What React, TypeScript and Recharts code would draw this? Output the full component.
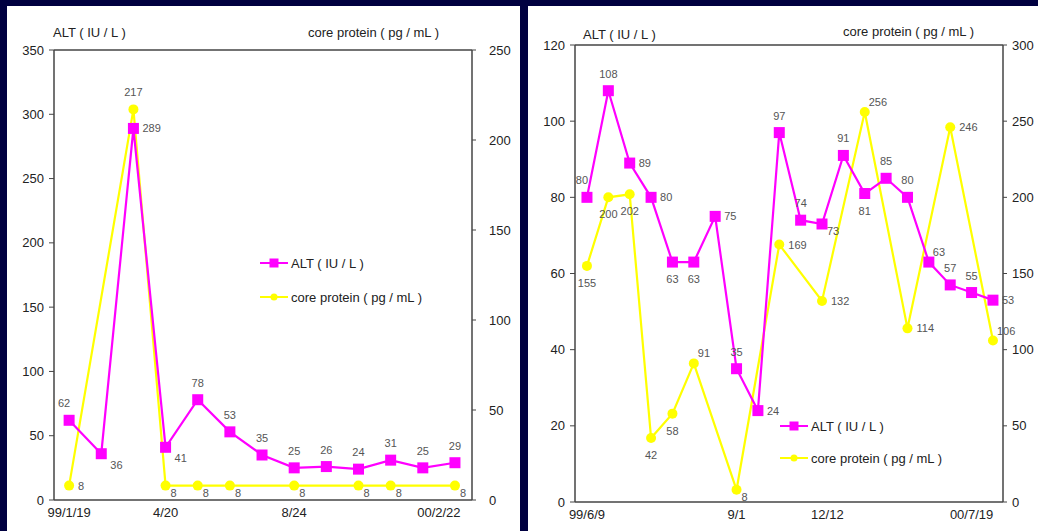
import React from "react";
import {
  LineChart,
  Line,
  XAxis,
  YAxis,
  Legend,
  LabelList,
  ReferenceLine,
} from "recharts";

// left panel (99/1/19 - 00/2/22)
const leftAlt = [62, 36, 289, 41, 78, 53, 35, 25, 26, 24, 31, 25, 29];
const leftCore = [8, null, 217, 8, 8, 8, null, 8, null, 8, 8, null, 8];
const leftTickPos = [0, 3, 7, 11.5];
const leftTickLabels = ["99/1/19", "4/20", "8/24", "00/2/22"];
const leftAltTicks = [0, 50, 100, 150, 200, 250, 300, 350];
const leftCoreTicks = [0, 50, 100, 150, 200, 250];

// right panel (99/6/9 - 00/7/19)
const rightAlt = [80, 108, 89, 80, 63, 63, 75, 35, 24, 97, 74, 73, 91, 81, 85, 80, 63, 57, 55, 53];
const rightCore = [155, 200, 202, 42, 58, 91, null, 8, null, 169, null, 132, null, 256, null, 114, null, 246, null, 106];
const rightTickPos = [0, 7, 11.25, 18];
const rightTickLabels = ["99/6/9", "9/1", "12/12", "00/7/19"];
const rightAltTicks = [0, 20, 40, 60, 80, 100, 120];
const rightCoreTicks = [0, 50, 100, 150, 200, 250, 300];

// where each value label sits relative to its point
const leftAltPlaces = ["tl", "br", "r", "br", "t", "t", "t", "t", "t", "t", "t", "t", "t"];
const leftCorePlaces = ["r", "", "t", "rb", "rb", "rb", "", "rb", "", "rb", "rb", "", "rb"];
const rightAltPlaces = ["tl", "t", "r", "r", "b", "b", "r", "t", "r", "t", "t", "rb", "t", "b", "t", "t", "tr", "t", "t", "r"];
const rightCorePlaces = ["b", "b", "b", "b", "b", "tr", "", "rb", "", "r", "", "r", "", "tr", "", "r", "", "r", "", "tr"];

const ALT_NAME = "ALT ( IU / L )";
const CORE_NAME = "core protein ( pg / mL )";
const MAGENTA = "#ff00ff";
const YELLOW = "#ffff00";
const FONT = '"Liberation Sans", Arial, sans-serif';

const labelOffsets: Record<string, [number, number, string]> = {
  t: [0, -13, "middle"],
  tl: [-5, -13, "middle"],
  b: [0, 21, "middle"],
  r: [9, 4, "start"],
  rb: [5, 11, "start"],
  br: [9, 15, "start"],
  tr: [4, -6, "start"],
};

function makeLabel(places: string[]) {
  return (props: any) => {
    const { x, y, value, index } = props;
    if (value == null || x == null || y == null) return null;
    const [dx, dy, anchor] = labelOffsets[places[index]] || labelOffsets.t;
    return (
      <text
        x={x + dx}
        y={y + dy}
        textAnchor={anchor as any}
        fontSize={11}
        fill="#555"
        fontFamily={FONT}
      >
        {value}
      </text>
    );
  };
}

const squareDot = (props: any) => {
  const { cx, cy, index } = props;
  if (cx == null || cy == null) return <g key={`s${index}`} />;
  return <rect key={`s${index}`} x={cx - 5.5} y={cy - 5.5} width={11} height={11} fill={MAGENTA} />;
};

const roundDot = (props: any) => {
  const { cx, cy, index, value } = props;
  if (cx == null || cy == null || value == null) return <g key={`c${index}`} />;
  return <circle key={`c${index}`} cx={cx} cy={cy} r={5} fill={YELLOW} />;
};

function makeLegend(rowHeight: number) {
  return (props: any) => (
    <div style={{ fontFamily: FONT, fontSize: 13, color: "#222" }}>
      {(props.payload || []).map((entry: any) => (
        <div
          key={entry.value}
          style={{ display: "flex", alignItems: "center", height: rowHeight, whiteSpace: "nowrap" }}
        >
          <svg width={28} height={12}>
            <line x1={0} x2={28} y1={6} y2={6} stroke={entry.color} strokeWidth={2} />
            {entry.dataKey === "alt" ? (
              <rect x={9.5} y={1.5} width={9} height={9} fill={entry.color} />
            ) : (
              <circle cx={14} cy={6} r={3.5} fill={entry.color} />
            )}
          </svg>
          <span style={{ marginLeft: 3 }}>{entry.value}</span>
        </div>
      ))}
    </div>
  );
}

const tickStyle = { fontSize: 13, fill: "#222", fontFamily: FONT };

type PanelProps = {
  alt: number[];
  core: (number | null)[];
  tickPos: number[];
  tickLabels: string[];
  altTicks: number[];
  coreTicks: number[];
  altPlaces: string[];
  corePlaces: string[];
  width: number;
  height: number;
  top: number;
  bottom: number;
  leftW: number;
  rightW: number;
  domain: [number, number];
  rightTickMargin: number;
  legendLeft: number;
  legendTop: number;
  legendRow: number;
};

function Panel(p: PanelProps) {
  const rows = p.alt.map((v, i) => ({ idx: i, alt: v, core: p.core[i] }));
  const altMax = p.altTicks[p.altTicks.length - 1];
  const coreMax = p.coreTicks[p.coreTicks.length - 1];
  return (
    <LineChart
      width={p.width}
      height={p.height}
      data={rows}
      margin={{ top: p.top, right: 0, bottom: 0, left: 0 }}
    >
      <XAxis
        type="number"
        dataKey="idx"
        domain={p.domain}
        ticks={p.tickPos}
        tickFormatter={(v: number) => p.tickLabels[p.tickPos.indexOf(v)] ?? ""}
        allowDataOverflow
        height={p.bottom}
        tickLine={false}
        tickSize={0}
        tickMargin={8}
        axisLine={{ stroke: "#444", strokeWidth: 1.5 }}
        tick={tickStyle}
        interval={0}
      />
      <YAxis
        yAxisId="alt"
        domain={[0, altMax]}
        ticks={p.altTicks}
        width={p.leftW}
        tickSize={5}
        tickMargin={5}
        axisLine={{ stroke: "#444", strokeWidth: 1.5 }}
        tickLine={{ stroke: "#444" }}
        tick={tickStyle}
        interval={0}
      />
      <YAxis
        yAxisId="core"
        orientation="right"
        domain={[0, coreMax]}
        ticks={p.coreTicks}
        width={p.rightW}
        tickSize={4}
        tickMargin={p.rightTickMargin}
        axisLine={{ stroke: "#444", strokeWidth: 1.5 }}
        tickLine={{ stroke: "#444" }}
        tick={tickStyle}
        interval={0}
      />
      <ReferenceLine yAxisId="alt" y={altMax} stroke="#444" strokeWidth={1.5} />
      <Legend
        layout="vertical"
        align="center"
        verticalAlign="middle"
        content={makeLegend(p.legendRow)}
        wrapperStyle={{ left: p.legendLeft, top: p.legendTop, width: "auto" }}
      />
      <Line
        yAxisId="core"
        dataKey="core"
        name={CORE_NAME}
        stroke={YELLOW}
        strokeWidth={2.2}
        connectNulls
        dot={roundDot}
        activeDot={false}
        isAnimationActive={false}
      >
        <LabelList dataKey="core" content={makeLabel(p.corePlaces)} />
      </Line>
      <Line
        yAxisId="alt"
        dataKey="alt"
        name={ALT_NAME}
        stroke={MAGENTA}
        strokeWidth={2.2}
        dot={squareDot}
        activeDot={false}
        isAnimationActive={false}
      >
        <LabelList dataKey="alt" content={makeLabel(p.altPlaces)} />
      </Line>
    </LineChart>
  );
}

const titleStyle: React.CSSProperties = {
  position: "absolute",
  fontFamily: FONT,
  fontSize: 13,
  color: "#222",
  whiteSpace: "nowrap",
  lineHeight: "14px",
};

export default function App() {
  return (
    <div
      style={{
        position: "fixed",
        left: 0,
        top: 0,
        width: 1038,
        height: 531,
        background: "#000040",
        overflow: "hidden",
      }}
    >
      <div style={{ position: "absolute", left: 7, top: 6, width: 513, height: 525, background: "#fff" }}>
        <Panel
          alt={leftAlt}
          core={leftCore}
          tickPos={leftTickPos}
          tickLabels={leftTickLabels}
          altTicks={leftAltTicks}
          coreTicks={leftCoreTicks}
          altPlaces={leftAltPlaces}
          corePlaces={leftCorePlaces}
          width={513}
          height={525}
          top={44}
          bottom={31}
          leftW={47}
          rightW={48}
          domain={[-0.47, 12.53]}
          rightTickMargin={13}
          legendLeft={253}
          legendTop={240}
          legendRow={34}
        />
        <div style={{ ...titleStyle, left: 46, top: 20 }}>{ALT_NAME}</div>
        <div style={{ ...titleStyle, left: 301, top: 20 }}>{CORE_NAME}</div>
      </div>
      <div style={{ position: "absolute", left: 528, top: 6, width: 510, height: 525, background: "#fff" }}>
        <Panel
          alt={rightAlt}
          core={rightCore}
          tickPos={rightTickPos}
          tickLabels={rightTickLabels}
          altTicks={rightAltTicks}
          coreTicks={rightCoreTicks}
          altPlaces={rightAltPlaces}
          corePlaces={rightCorePlaces}
          width={510}
          height={525}
          top={39}
          bottom={29}
          leftW={47}
          rightW={35}
          domain={[-0.56, 19.47]}
          rightTickMargin={5}
          legendLeft={252}
          legendTop={404}
          legendRow={32}
        />
        <div style={{ ...titleStyle, left: 55, top: 22 }}>{ALT_NAME}</div>
        <div style={{ ...titleStyle, left: 315, top: 19 }}>{CORE_NAME}</div>
      </div>
    </div>
  );
}
